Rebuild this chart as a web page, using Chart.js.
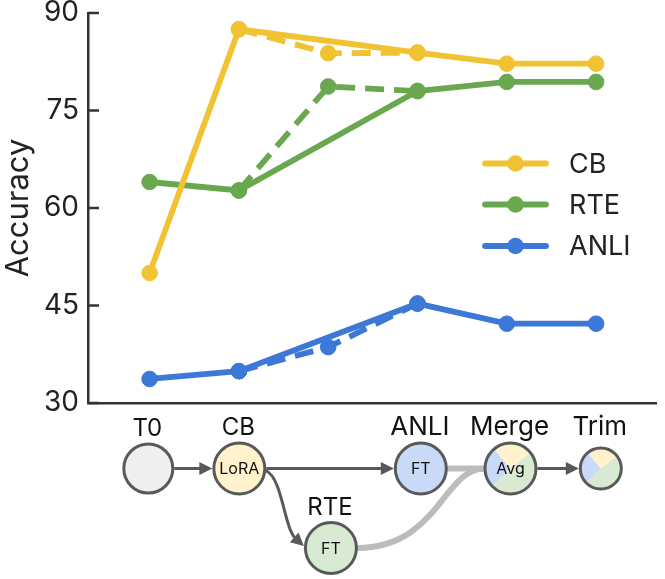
<!DOCTYPE html>
<html>
<head>
<meta charset="utf-8">
<script src="https://cdn.jsdelivr.net/npm/chart.js@4.4.0/dist/chart.umd.min.js"></script>
<style>
  html, body { margin: 0; padding: 0; background: #fff; }
  #wrap { width: 665px; height: 579px; }
</style>
</head>
<body>
<div id="wrap"><canvas id="chart"></canvas></div>
<script>
// stages along the x axis (index = x value)
const stages = ['T0', 'CB', 'RTE', 'ANLI', 'Merge', 'Trim'];
const mainSteps = [0, 1, 3, 4, 5];   // solid path skips the RTE step
const seqSteps = [1, 2, 3];          // dashed path goes through RTE

const cbMain = [50, 87.5, 83.9, 82.2, 82.2];
const rteMain = [64, 62.7, 78, 79.4, 79.4];
const anliMain = [33.7, 34.9, 45.3, 42.2, 42.2];

const cbSeq = [87.5, 83.8, 83.9];
const rteSeq = [62.7, 78.7, 78];
const anliSeq = [34.9, 38.6, 45.3];

const yTicks = [30, 45, 60, 75, 90];
const seriesNames = ['CB', 'RTE', 'ANLI'];

const YELLOW = '#f1c232';
const GREEN = '#6aa84f';
const BLUE = '#3c78d8';
const FONT = 'Inter, "DejaVu Sans", sans-serif';

function pts(steps, vals) {
  return steps.map((s, i) => ({ x: s, y: vals[i] }));
}

function lineSet(label, steps, vals, color, dashed) {
  return {
    label: label,
    data: pts(steps, vals),
    borderColor: color,
    backgroundColor: color,
    pointBackgroundColor: color,
    pointBorderColor: color,
    borderWidth: 5.8,
    borderDash: dashed ? [19, 10] : [],
    pointRadius: 7.8,
    pointBorderWidth: 1,
    tension: 0,
    fill: false
  };
}

// inward y ticks + custom legend
const axisExtras = {
  id: 'axisExtras',
  afterDraw(chart) {
    const ctx = chart.ctx;
    const y = chart.scales.y;
    const left = chart.chartArea.left;
    ctx.save();
    ctx.strokeStyle = '#333';
    ctx.lineWidth = 2.5;
    yTicks.forEach(v => {
      const py = y.getPixelForValue(v);
      ctx.beginPath();
      ctx.moveTo(left, py);
      ctx.lineTo(left + 11, py);
      ctx.stroke();
    });

    // legend
    const colors = [YELLOW, GREEN, BLUE];
    const rows = [163.5, 204.5, 246];
    seriesNames.forEach((name, i) => {
      ctx.strokeStyle = colors[i];
      ctx.fillStyle = colors[i];
      ctx.lineWidth = 5.8;
      ctx.lineCap = 'round';
      ctx.beginPath();
      ctx.moveTo(485, rows[i]);
      ctx.lineTo(546, rows[i]);
      ctx.stroke();
      ctx.beginPath();
      ctx.arc(515.5, rows[i], 8.3, 0, Math.PI * 2);
      ctx.fill();
      ctx.fillStyle = '#222';
      ctx.font = '27px ' + FONT;
      ctx.textAlign = 'left';
      ctx.textBaseline = 'middle';
      ctx.fillText(name, 569, rows[i] + 1);
    });
    ctx.restore();
  }
};

// the training pipeline drawn under the x axis
const pipeline = {
  id: 'pipeline',
  afterDraw(chart) {
    const ctx = chart.ctx;
    const xs = chart.scales.x;
    const rowY = [468.5, 548];
    const nodes = [
      { dx: -1.3, row: 0, r: 24.5, fill: '#efefef', inner: '', size: 24 },
      { dx: 0.4, row: 0, r: 25.5, fill: '#fff2cc', inner: 'LoRA', size: 24 },
      { dx: 2.7, row: 1, r: 25.5, fill: '#d9ead3', inner: 'FT', size: 24 },
      { dx: 3.3, row: 0, r: 25.5, fill: '#c9daf8', inner: 'FT', size: 26 },
      { dx: 3.7, row: 0, r: 25.5, fill: null, inner: 'Avg', size: 26 },
      { dx: 4.7, row: 0, r: 20.5, fill: null, inner: '', size: 26 }
    ];
    const P = nodes.map((n, i) => ({ x: xs.getPixelForValue(i) + n.dx, y: rowY[n.row], r: n.r }));
    const DARK = '#595959';

    function head(tx, ty, ang) {
      const L = 13, W = 6.5;
      ctx.beginPath();
      ctx.moveTo(tx, ty);
      ctx.lineTo(tx - L * Math.cos(ang) + W * Math.sin(ang), ty - L * Math.sin(ang) - W * Math.cos(ang));
      ctx.lineTo(tx - L * Math.cos(ang) - W * Math.sin(ang), ty - L * Math.sin(ang) + W * Math.cos(ang));
      ctx.closePath();
      ctx.fill();
    }
    function straightArrow(a, b) {
      const x0 = a.x + a.r + 1.5, x1 = b.x - b.r - 1.5;
      ctx.beginPath();
      ctx.moveTo(x0, a.y);
      ctx.lineTo(x1 - 12, b.y);
      ctx.stroke();
      head(x1, b.y, 0);
    }

    ctx.save();
    ctx.lineCap = 'butt';

    // grey merge lines
    ctx.strokeStyle = '#bcbcbc';
    ctx.lineWidth = 6;
    const anli = P[3], merge = P[4], rte = P[2], cb = P[1];
    ctx.beginPath();
    ctx.moveTo(anli.x + anli.r, anli.y);
    ctx.lineTo(merge.x - merge.r, merge.y);
    ctx.stroke();
    ctx.beginPath();
    ctx.moveTo(rte.x + rte.r, rte.y);
    ctx.bezierCurveTo(rte.x + 108, rte.y, merge.x - 68, merge.y, merge.x - merge.r, merge.y);
    ctx.stroke();

    // dark arrows
    ctx.strokeStyle = DARK;
    ctx.fillStyle = DARK;
    ctx.lineWidth = 3;
    straightArrow(P[0], P[1]);
    straightArrow(P[1], P[3]);
    straightArrow(P[4], P[5]);

    // curved arrow CB -> RTE
    const sx = cb.x + cb.r + 1, sy = cb.y + 2;
    const tx = rte.x - rte.r - 1.5, ty = rte.y - 2;
    const c1x = sx + 17, c1y = sy + 8, c2x = sx + 18, c2y = ty - 18;
    ctx.beginPath();
    ctx.moveTo(sx, sy);
    ctx.bezierCurveTo(c1x, c1y, c2x, c2y, tx - 8, ty - 7);
    ctx.stroke();
    head(tx, ty, Math.atan2(ty - c2y, tx - c2x));

    // nodes
    const deg = Math.PI / 180;
    nodes.forEach((n, i) => {
      const p = P[i];
      if (n.fill) {
        ctx.fillStyle = n.fill;
        ctx.beginPath();
        ctx.arc(p.x, p.y, p.r, 0, Math.PI * 2);
        ctx.fill();
      } else {
        const wedges = [
          ['#c9daf8', 135, 230],
          ['#fff2cc', 230, 322],
          ['#d9ead3', 322, 495]
        ];
        wedges.forEach(w => {
          ctx.fillStyle = w[0];
          ctx.beginPath();
          ctx.moveTo(p.x, p.y);
          ctx.arc(p.x, p.y, p.r, w[1] * deg, w[2] * deg);
          ctx.closePath();
          ctx.fill();
        });
      }
      ctx.strokeStyle = DARK;
      ctx.lineWidth = 3;
      ctx.beginPath();
      ctx.arc(p.x, p.y, p.r, 0, Math.PI * 2);
      ctx.stroke();

      ctx.fillStyle = '#111';
      ctx.textAlign = 'center';
      ctx.textBaseline = 'alphabetic';
      ctx.font = n.size + 'px ' + FONT;
      ctx.fillText(stages[i], p.x - 1, p.y - p.r - (n.r < 22 ? 13 : 8));
      if (n.inner) {
        ctx.font = '16px ' + FONT;
        ctx.textBaseline = 'middle';
        ctx.fillText(n.inner, p.x, p.y + 1);
      }
    });
    ctx.restore();
  }
};

const chart = new Chart(document.getElementById('chart'), {
  type: 'line',
  data: {
    datasets: [
      lineSet('CB', mainSteps, cbMain, YELLOW, false),
      lineSet('CB seq', seqSteps, cbSeq, YELLOW, true),
      lineSet('RTE', mainSteps, rteMain, GREEN, false),
      lineSet('RTE seq', seqSteps, rteSeq, GREEN, true),
      lineSet('ANLI', mainSteps, anliMain, BLUE, false),
      lineSet('ANLI seq', seqSteps, anliSeq, BLUE, true)
    ]
  },
  options: {
    responsive: true,
    maintainAspectRatio: false,
    animation: false,
    layout: { padding: { left: 0, right: 5, top: 13, bottom: 176 } },
    plugins: {
      legend: { display: false },
      tooltip: { enabled: false }
    },
    scales: {
      x: {
        type: 'linear',
        min: -0.69,
        max: 5.673,
        grid: { display: false, drawTicks: false },
        ticks: { display: false },
        border: { display: true, color: '#333', width: 2.5 },
        afterFit: s => { s.height = 0; s.paddingLeft = 0; s.paddingRight = 0; }
      },
      y: {
        min: 30,
        max: 90,
        afterBuildTicks: s => { s.ticks = yTicks.map(v => ({ value: v })); },
        grid: { display: false, drawTicks: false },
        border: { display: true, color: '#333', width: 2.5 },
        ticks: {
          padding: 9,
          color: '#222',
          font: { family: FONT, size: 28 }
        },
        title: {
          display: true,
          text: 'Accuracy',
          color: '#222',
          padding: { top: 0, bottom: 0 },
          font: { family: FONT, size: 31 }
        },
        afterFit: s => { s.width = 88; s.paddingTop = 0; s.paddingBottom = 0; }
      }
    }
  },
  plugins: [axisExtras, pipeline]
});
</script>
</body>
</html>
